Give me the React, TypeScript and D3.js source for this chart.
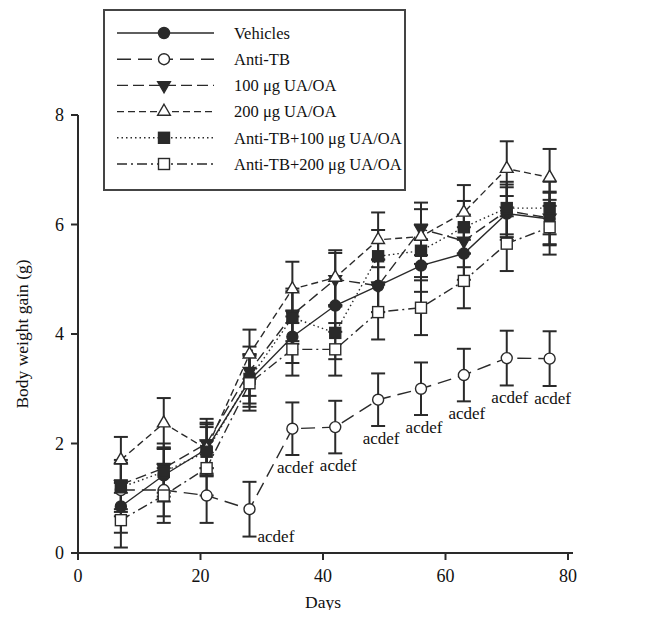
import * as d3 from 'd3';

const days = [7, 14, 21, 28, 35, 42, 49, 56, 63, 70, 77];

const vehicles = [0.85, 1.42, 1.9, 3.15, 3.95, 4.52, 4.88, 5.25, 5.47, 6.2, 6.1];
const antiTB = [1.15, 1.15, 1.05, 0.8, 2.27, 2.3, 2.8, 3.0, 3.25, 3.56, 3.55];
const ua100 = [1.25, 1.55, 2.0, 3.32, 4.35, 5.0, 4.88, 5.92, 5.7, 6.25, 6.12];
const ua200 = [1.7, 2.37, 1.9, 3.63, 4.82, 5.03, 5.72, 5.78, 6.22, 7.02, 6.86];
const atb100 = [1.2, 1.48, 1.85, 3.18, 4.3, 4.02, 5.42, 5.52, 5.95, 6.3, 6.3];
const atb200 = [0.6, 1.05, 1.55, 3.1, 3.72, 3.72, 4.4, 4.48, 4.97, 5.65, 5.95];

const vehiclesErr = [0.48, 0.48, 0.48, 0.48, 0.48, 0.48, 0.48, 0.48, 0.48, 0.48, 0.48];
const antiTBErr = [0.48, 0.48, 0.5, 0.5, 0.48, 0.48, 0.48, 0.48, 0.48, 0.5, 0.5];
const ua100Err = [0.45, 0.45, 0.45, 0.45, 0.48, 0.48, 0.48, 0.48, 0.48, 0.48, 0.48];
const ua200Err = [0.42, 0.46, 0.45, 0.45, 0.5, 0.5, 0.5, 0.5, 0.5, 0.5, 0.52];
const atb100Err = [0.45, 0.45, 0.45, 0.45, 0.48, 0.48, 0.48, 0.48, 0.48, 0.48, 0.48];
const atb200Err = [0.5, 0.5, 0.5, 0.5, 0.48, 0.48, 0.5, 0.5, 0.5, 0.5, 0.5];

const seriesNames = [
  'Vehicles',
  'Anti-TB',
  '100 μg UA/OA',
  '200 μg UA/OA',
  'Anti-TB+100 μg UA/OA',
  'Anti-TB+200 μg UA/OA',
];

const sigLabel = 'acdef';
const sigDays = [28, 35, 42, 49, 56, 63, 70, 77];

const xTicks = [0, 20, 40, 60, 80];
const yTicks = [0, 2, 4, 6, 8];

const ink = '#2a2a2a';
const font = '"Liberation Serif", "Times New Roman", serif';

const series = [
  { name: seriesNames[0], values: vehicles, err: vehiclesErr, dash: 'none', marker: 'circle', fill: ink },
  { name: seriesNames[1], values: antiTB, err: antiTBErr, dash: '14,7', marker: 'circle', fill: '#fff' },
  { name: seriesNames[2], values: ua100, err: ua100Err, dash: '11,5', marker: 'triDown', fill: ink },
  { name: seriesNames[3], values: ua200, err: ua200Err, dash: '7,4', marker: 'triUp', fill: '#fff' },
  { name: seriesNames[4], values: atb100, err: atb100Err, dash: '1.5,3', marker: 'square', fill: ink },
  { name: seriesNames[5], values: atb200, err: atb200Err, dash: '10,4,2,4', marker: 'square', fill: '#fff' },
];

function Marker({ kind, x, y, fill }: { kind: string; x: number; y: number; fill: string }) {
  const common = { fill, stroke: ink, strokeWidth: 1.4 };
  if (kind === 'circle') return <circle cx={x} cy={y} r={5.5} {...common} />;
  if (kind === 'square') return <rect x={x - 5.5} y={y - 5.5} width={11} height={11} {...common} />;
  const sym = d3.symbol().type(d3.symbolTriangle).size(70)();
  const rot = kind === 'triDown' ? 180 : 0;
  return <path d={sym || ''} transform={`translate(${x},${y}) rotate(${rot})`} {...common} />;
}

export default function App() {
  const width = 649;
  const height = 618;

  const x = d3.scaleLinear().domain([0, 80]).range([78, 568]);
  const y = d3.scaleLinear().domain([0, 8]).range([553, 115]);

  const line = d3
    .line<number>()
    .x((_, i) => x(days[i]))
    .y((v) => y(v));

  const cap = 7;

  return (
    <div style={{ margin: -8 }}>
      <svg width={width} height={height} style={{ display: 'block', background: '#fff' }} fontFamily={font}>
        {/* error bars */}
        {series.map((s) =>
          s.values.map((v, i) => {
            const cx = x(days[i]);
            const top = y(v + s.err[i]);
            const bot = y(v - s.err[i]);
            return (
              <g key={s.name + i} stroke={ink} strokeWidth={2}>
                <line x1={cx} x2={cx} y1={top} y2={bot} />
                <line x1={cx - cap} x2={cx + cap} y1={top} y2={top} />
                <line x1={cx - cap} x2={cx + cap} y1={bot} y2={bot} />
              </g>
            );
          })
        )}

        {/* lines */}
        {series.map((s) => (
          <path
            key={s.name}
            d={line(s.values) || ''}
            fill="none"
            stroke={ink}
            strokeWidth={1.4}
            strokeDasharray={s.dash}
          />
        ))}

        {/* markers */}
        {series.map((s) =>
          s.values.map((v, i) => (
            <Marker key={s.name + 'm' + i} kind={s.marker} x={x(days[i])} y={y(v)} fill={s.fill} />
          ))
        )}

        {/* significance labels */}
        {sigDays.map((d) => {
          const i = days.indexOf(d);
          const bot = y(antiTB[i] - antiTBErr[i]);
          const first = d === 28;
          return (
            <text
              key={'sig' + d}
              x={first ? x(d) + cap + 1 : x(d) + 3}
              y={first ? bot + 5 : bot + 18}
              textAnchor={first ? 'start' : 'middle'}
              fontSize={17}
              fill="#111"
            >
              {sigLabel}
            </text>
          );
        })}

        {/* axes */}
        <g stroke={ink} strokeWidth={2}>
          <line x1={x(0)} x2={x(0)} y1={y(8)} y2={y(0)} />
          <line x1={x(0)} x2={x(80) + 5} y1={y(0)} y2={y(0)} />
          {yTicks.map((t) => (
            <line key={'yt' + t} x1={x(0) - 7} x2={x(0)} y1={y(t)} y2={y(t)} />
          ))}
          {xTicks.map((t) => (
            <line key={'xt' + t} x1={x(t)} x2={x(t)} y1={y(0)} y2={y(0) + 7} />
          ))}
        </g>
        {yTicks.map((t) => (
          <text key={'yl' + t} x={x(0) - 14} y={y(t)} dy="0.35em" textAnchor="end" fontSize={18} fill="#111">
            {t}
          </text>
        ))}
        {xTicks.map((t) => (
          <text key={'xl' + t} x={x(t)} y={y(0) + 29} textAnchor="middle" fontSize={18} fill="#111">
            {t}
          </text>
        ))}
        <text x={(x(0) + x(80)) / 2} y={608} textAnchor="middle" fontSize={17.5} fill="#111">
          Days
        </text>
        <text
          transform={`translate(28, ${y(4)}) rotate(-90)`}
          textAnchor="middle"
          fontSize={17.5}
          fill="#111"
        >
          Body weight gain (g)
        </text>

        {/* legend */}
        <rect x={104} y={10} width={301} height={180} fill="#fff" stroke="#444" strokeWidth={2} />
        {series.map((s, i) => {
          const ly = 33 + i * 26.2;
          return (
            <g key={'lg' + s.name}>
              <line x1={117} x2={214} y1={ly} y2={ly} stroke={ink} strokeWidth={1.4} strokeDasharray={s.dash} />
              <Marker kind={s.marker} x={164} y={ly} fill={s.fill} />
              <text x={234} y={ly} dy="0.35em" fontSize={16.5} fill="#111">
                {s.name}
              </text>
            </g>
          );
        })}
      </svg>
    </div>
  );
}
